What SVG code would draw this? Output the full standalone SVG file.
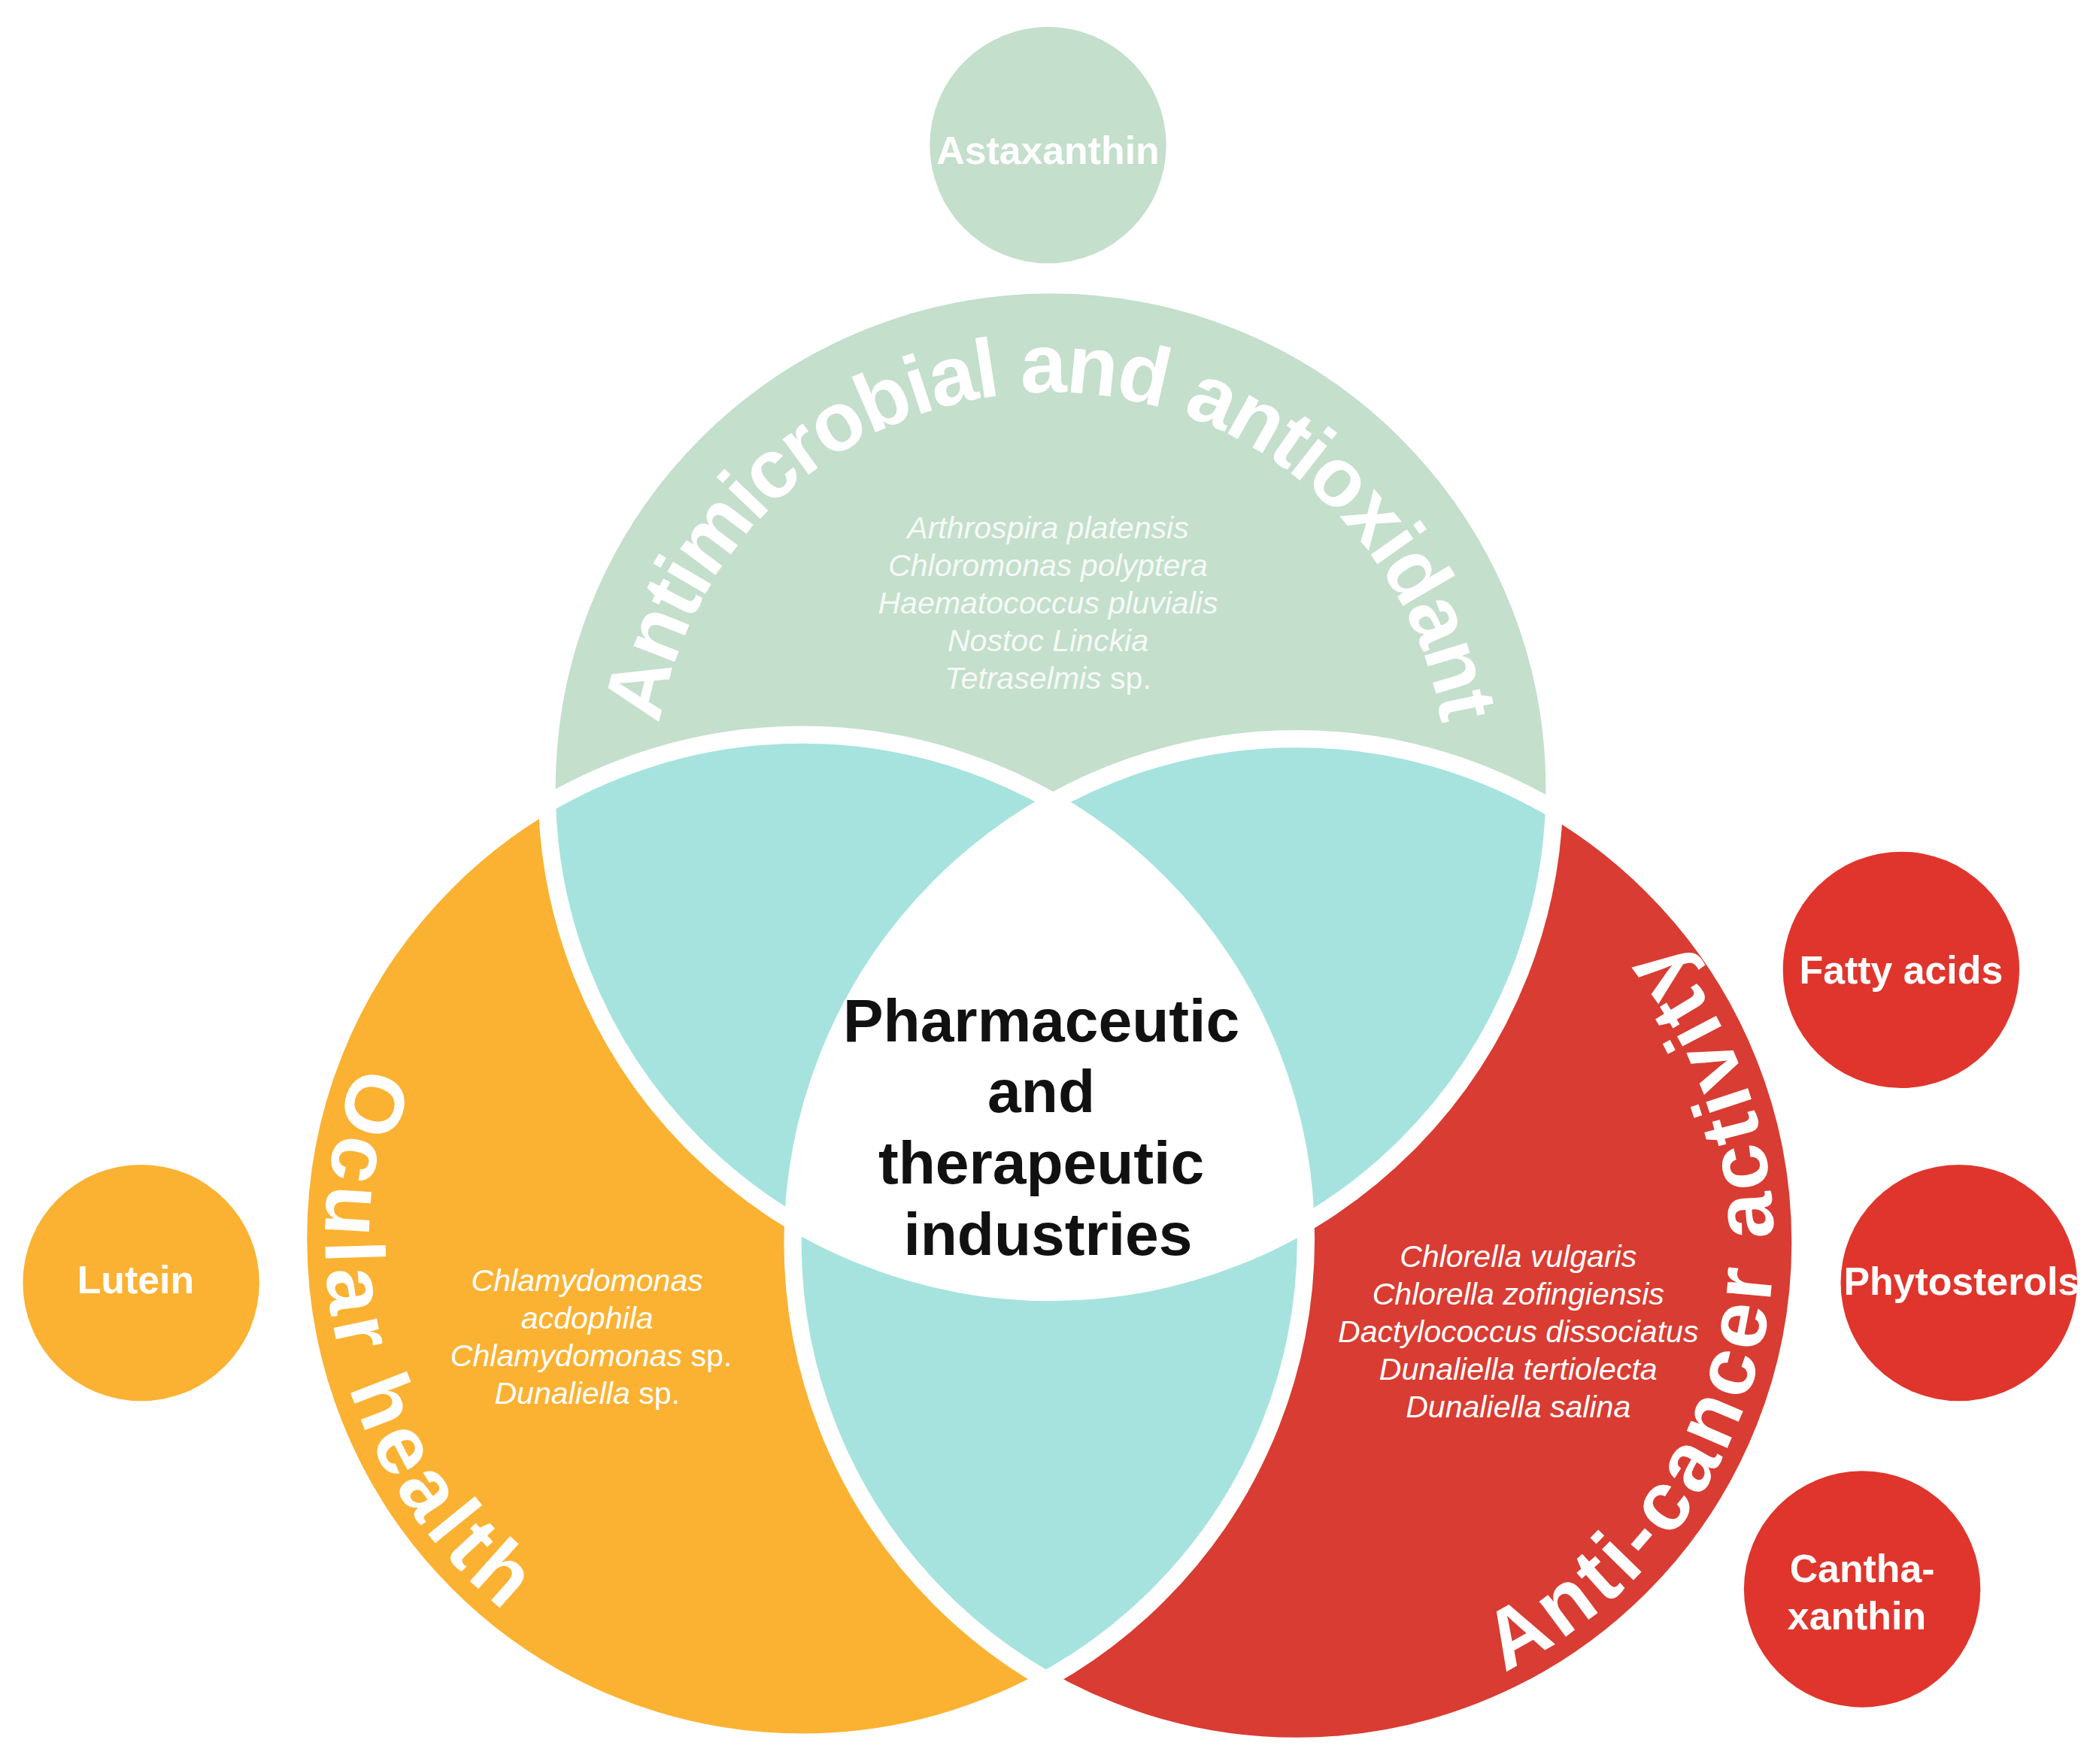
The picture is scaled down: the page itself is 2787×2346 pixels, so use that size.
<svg xmlns="http://www.w3.org/2000/svg" xmlns:xlink="http://www.w3.org/1999/xlink" width="2787" height="2346" viewBox="0 0 2787 2346">
<style>
.big{font-family:"Liberation Sans",Arial,sans-serif;font-weight:bold;fill:#fff;font-size:62px}
.sp{font-family:"Liberation Sans",Arial,sans-serif;font-style:italic;fill:#fff;font-size:23px;text-anchor:middle}
.sm{font-family:"Liberation Sans",Arial,sans-serif;font-weight:bold;fill:#fff;font-size:29px;text-anchor:middle}
.ctr{font-family:"Liberation Sans",Arial,sans-serif;font-weight:bold;fill:#111;font-size:45px;text-anchor:middle}
.ring{fill:none;stroke:#fff;stroke-width:13}
</style>
<defs>
<clipPath id="cT"><circle cx="782" cy="587" r="375"/></clipPath>
<clipPath id="cL"><circle cx="597" cy="922" r="375"/></clipPath>
<clipPath id="cR"><circle cx="965" cy="925" r="375"/></clipPath>
<path id="pT" d="M 487,587 A 295 295 0 0 1 1077,587"/>
<path id="pL" d="M 393.4,631.2 A 355 355 0 0 0 565.9,1275.6"/>
<path id="pR" d="M 1026.6,1274.6 A 355 355 0 0 0 1168.6,634.2"/>
</defs>
<g transform="scale(1.7865)">
<g id="top-circle"><circle cx="782" cy="587" r="375" fill="#c4dfcc"/></g>
<g id="left-circle"><circle cx="597" cy="922" r="375" fill="#fbb232"/></g>
<g id="right-circle"><circle cx="965" cy="925" r="375" fill="#d93c32"/></g>
<g id="overlaps">
<g clip-path="url(#cT)"><circle cx="597" cy="922" r="375" fill="#a6e3de"/><circle cx="965" cy="925" r="375" fill="#a6e3de"/></g>
<g clip-path="url(#cL)"><circle cx="965" cy="925" r="375" fill="#a6e3de"/></g>
<g clip-path="url(#cT)"><g clip-path="url(#cL)"><circle cx="965" cy="925" r="375" fill="#fff"/></g></g>
</g>
<g id="rings">
<circle class="ring" cx="782" cy="587" r="375"/>
<circle class="ring" cx="597" cy="922" r="375"/>
<circle class="ring" cx="965" cy="925" r="375"/>
</g>
<g id="labels">
<text class="big"><textPath xlink:href="#pT" href="#pT" startOffset="50%" text-anchor="middle" textLength="830" lengthAdjust="spacing">Antimicrobial and antioxidant</textPath></text>
<text class="big"><textPath xlink:href="#pL" href="#pL" startOffset="50%" text-anchor="middle" textLength="450" lengthAdjust="spacing">Ocular health</textPath></text>
<text class="big"><textPath xlink:href="#pR" href="#pR" startOffset="50%" text-anchor="middle" textLength="640" lengthAdjust="spacing">Anti-cancer activity</textPath></text>
</g>
<g id="species-top" opacity="0.85">
<text class="sp" x="780" y="401">Arthrospira platensis</text>
<text class="sp" x="780" y="429">Chloromonas polyptera</text>
<text class="sp" x="780" y="457">Haematococcus pluvialis</text>
<text class="sp" x="780" y="485">Nostoc Linckia</text>
<text class="sp" x="780" y="513">Tetraselmis <tspan font-style="normal">sp.</tspan></text>
</g>
<g id="species-left">
<text class="sp" x="437" y="961">Chlamydomonas</text>
<text class="sp" x="437" y="989">acdophila</text>
<text class="sp" x="440" y="1017">Chlamydomonas <tspan font-style="normal">sp.</tspan></text>
<text class="sp" x="437" y="1045">Dunaliella <tspan font-style="normal">sp.</tspan></text>
</g>
<g id="species-right">
<text class="sp" x="1130" y="943">Chlorella vulgaris</text>
<text class="sp" x="1130" y="971">Chlorella zofingiensis</text>
<text class="sp" x="1130" y="999">Dactylococcus dissociatus</text>
<text class="sp" x="1130" y="1027">Dunaliella tertiolecta</text>
<text class="sp" x="1130" y="1055">Dunaliella salina</text>
</g>
<g id="center">
<text class="ctr" x="775" y="775">Pharmaceutic</text>
<text class="ctr" x="775" y="828">and</text>
<text class="ctr" x="775" y="881">therapeutic</text>
<text class="ctr" x="780" y="934">industries</text>
</g>
<g id="astaxanthin"><circle cx="780" cy="108" r="88" fill="#c4dfcc"/><text class="sm" x="780" y="122">Astaxanthin</text></g>
<g id="lutein"><circle cx="105" cy="955" r="88" fill="#fbb232"/><text class="sm" x="101" y="963">Lutein</text></g>
<g id="fatty-acids"><circle cx="1415" cy="722" r="88" fill="#e0352c"/><text class="sm" x="1415" y="732">Fatty acids</text></g>
<g id="phytosterols"><circle cx="1458" cy="955" r="88" fill="#e0352c"/><text class="sm" x="1460" y="964">Phytosterols</text></g>
<g id="canthaxanthin"><circle cx="1386" cy="1183" r="88" fill="#e0352c"/><text class="sm" x="1386" y="1178">Cantha-</text><text class="sm" x="1382" y="1213">xanthin</text></g>
</g>
</svg>
